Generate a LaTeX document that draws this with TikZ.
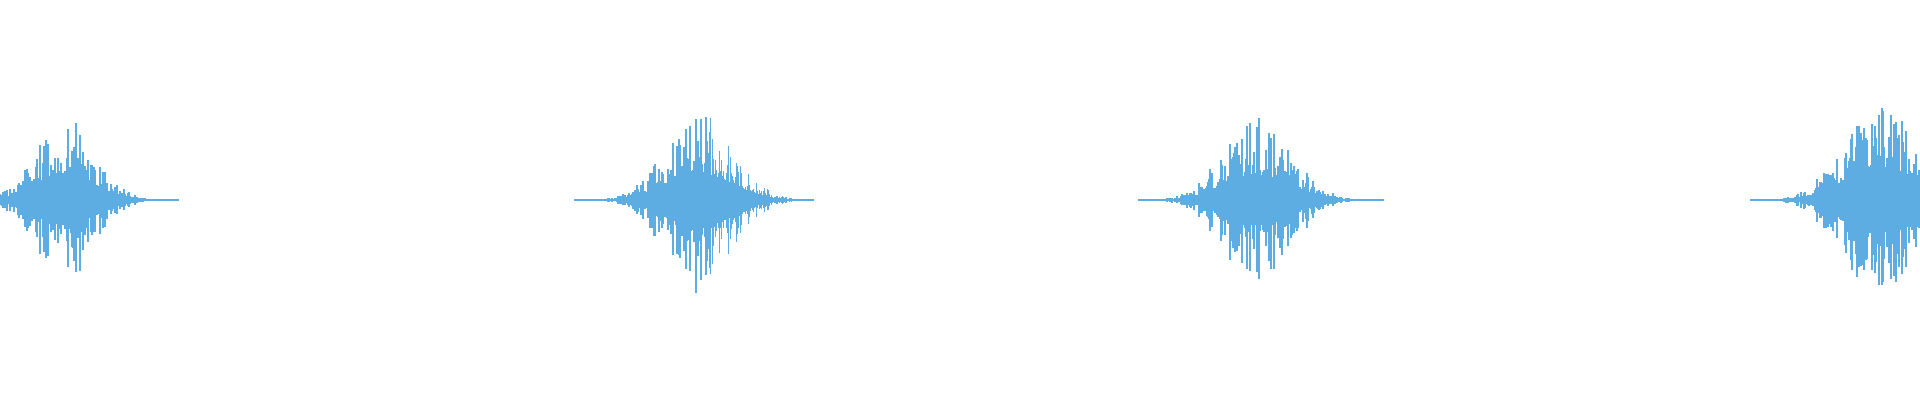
\documentclass[tikz,border=0pt]{standalone}
\usepackage{tikz}
\definecolor{wave}{RGB}{93,173,226}
\tikzstyle{sample} = [draw=wave, line width=0.5pt]
% one burst: start, end, peak position, amplitude, width (all in px)
\newcommand{\burst}[5]{%
  \foreach \x in {#1,...,#2} {
    \pgfmathsetmacro{\env}{#4*exp(-((\x-#3)/#5)^2)}
    \pgfmathsetmacro{\amp}{\env*(0.3+0.7*rnd^2)}
    \pgfmathsetmacro{\up}{max(1.2,\amp*(0.85+0.15*rnd))}
    \pgfmathsetmacro{\dn}{max(1.2,\amp*(0.85+0.15*rnd))}
    \draw [sample] (\x*0.01,2-\up*0.01) -- (\x*0.01,2+\dn*0.01);
  }
  \draw [sample, line width=0.3pt] (#1*0.01,2) -- (#2*0.01,2);
}
\begin{document}
\begin{tikzpicture}
    \useasboundingbox (0,0) rectangle (19.2,4);
    \pgfmathsetseed{4711}
    % bursts
    \burst{0}{178}{65}{85}{42}
    \burst{575}{814}{700}{95}{48}
    \burst{1139}{1384}{1258}{86}{48}
    \burst{1752}{1920}{1880}{108}{50}
\end{tikzpicture}
\end{document}
